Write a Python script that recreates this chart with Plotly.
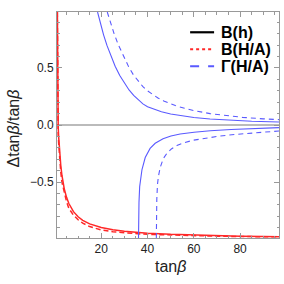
import plotly.graph_objects as go

# ---- data ----
# B(h) solid red
bh_solid_t = [1.05, 1.1, 1.2, 1.3, 1.4, 1.6, 2.0, 2.5, 3, 4, 5, 6, 8, 10, 12, 15, 20, 25, 30, 40, 50, 60, 70, 80, 90, 97]
bh_solid_d = [0.99, 0.6, 0.25, 0.05, -0.02, -0.106, -0.236, -0.353, -0.44, -0.557, -0.634, -0.688, -0.759, -0.804,
              -0.835, -0.866, -0.898, -0.918, -0.931, -0.948, -0.958, -0.965, -0.970, -0.974, -0.977, -0.978]
# B(H/A) dashed red
bha_dash_t = [1.02, 1.08, 1.15, 1.25, 1.4, 1.6, 2.0, 2.5, 3, 4, 5, 6, 8, 10, 12, 15, 20, 25, 30, 40, 50, 60, 70, 80, 90, 97]
bha_dash_d = [0.99, 0.5, 0.2, 0.02, -0.08, -0.16, -0.3, -0.41, -0.5, -0.60, -0.67, -0.73, -0.79, -0.83,
              -0.86, -0.89, -0.92, -0.935, -0.945, -0.958, -0.965, -0.97, -0.974, -0.977, -0.979, -0.98]
# Gamma(H/A) solid blue, upper branch
gu_solid_t = [18.4, 19.5, 21, 22.5, 24, 26, 28, 30, 32, 34, 36, 38, 40, 43, 46, 50, 55, 60, 67, 75, 85, 97]
gu_solid_d = [0.99, 0.90, 0.79, 0.695, 0.61, 0.515, 0.434, 0.365, 0.307, 0.259, 0.218, 0.185, 0.16, 0.135,
              0.116, 0.097, 0.079, 0.066, 0.053, 0.042, 0.033, 0.026]
# Gamma(H/A) solid blue, lower branch
gl_solid_t = [36.1, 36.15, 36.3, 36.6, 36.9, 37.6, 39.0, 41.1, 43.3, 46.7, 50.1, 54.1, 60.1, 67.1, 76.1, 86.1, 97]
gl_solid_d = [-0.99, -0.85, -0.68, -0.54, -0.48, -0.39, -0.285, -0.205, -0.16, -0.12, -0.096, -0.079, -0.063,
              -0.05, -0.04, -0.031, -0.023]
# Gamma(H/A) dashed blue, upper branch
gu_dash_t = [22.6, 24, 25.5, 27.3, 30, 32, 34, 36, 38, 40, 42, 44.5, 47, 49.5, 52, 56, 60, 67, 75, 81, 90, 97]
gu_dash_d = [0.99, 0.895, 0.803, 0.706, 0.581, 0.503, 0.436, 0.381, 0.336, 0.299, 0.268, 0.237, 0.211, 0.189,
             0.170, 0.146, 0.126, 0.100, 0.079, 0.067, 0.054, 0.047]
# Gamma(H/A) dashed blue, lower branch
gl_dash_t = [43.8, 43.85, 44.0, 44.3, 44.7, 45.5, 46.8, 48.3, 50.3, 52.7, 55.8, 59.8, 64.8, 70.8, 77.8, 85.8, 97]
gl_dash_d = [-0.99, -0.84, -0.65, -0.52, -0.45, -0.37, -0.295, -0.25, -0.21, -0.18, -0.155, -0.133, -0.115,
             -0.098, -0.083, -0.068, -0.052]

legend_labels = ["B(h)", "B(H/A)", "Γ(H/A)"]
x_ticks = [20, 40, 60, 80]
y_ticks = [-0.5, 0.0, 0.5]
y_tick_text = ["\u22120.5", "0.0", "0.5"]

RED = "rgb(255,40,40)"
BLUE = "rgb(90,90,255)"

fig = go.Figure()

def add(t, d, color, dash, width):
    fig.add_trace(go.Scatter(x=t, y=d, mode="lines", line=dict(color=color, dash=dash, width=width),
                             showlegend=False, hoverinfo="skip"))

add(bha_dash_t, bha_dash_d, RED, "5px,3px", 1.5)
add(bh_solid_t, bh_solid_d, RED, "solid", 1.5)
add(gu_solid_t, gu_solid_d, BLUE, "solid", 1.1)
add(gl_solid_t, gl_solid_d, BLUE, "solid", 1.1)
add(gu_dash_t, gu_dash_d, BLUE, "5px,4px", 1.1)
add(gl_dash_t, gl_dash_d, BLUE, "5px,4px", 1.1)

FONT = "Liberation Sans, Arial, sans-serif"
axis_common = dict(showline=True, linecolor="#999", linewidth=1, mirror="allticks", ticks="inside",
                   ticklen=5, tickcolor="#999", tickwidth=1, showgrid=False,
                   tickfont=dict(family=FONT, size=12, color="#222"))

fig.update_xaxes(range=[0.88, 96.8], tickvals=x_ticks, zeroline=False,
                 minor=dict(dtick=5, ticks="inside", ticklen=2.5, tickcolor="#999", showgrid=False), **axis_common)
fig.update_yaxes(range=[-0.99, 0.99], tickvals=y_ticks, ticktext=y_tick_text,
                 zeroline=True, zerolinecolor="#bbb", zerolinewidth=1.5,
                 minor=dict(dtick=0.1, ticks="inside", ticklen=2.5, tickcolor="#999", showgrid=False), **axis_common)

# legend drawn manually
PW = 222.3
PH = 226.3
def px_x(px):
    return (px - 56.7) / PW
def px_y(py):
    return (238 - py) / PH

rows = [(32, "black", "solid"), (49, RED, "dot"), (66, BLUE, "dash")]
for (py, col, dash), lab in zip(rows, legend_labels):
    fig.add_shape(type="line", xref="paper", yref="paper", x0=px_x(190), x1=px_x(214), y0=px_y(py), y1=px_y(py),
                  line=dict(color=col, width=2.2, dash=dash))
    fig.add_annotation(xref="paper", yref="paper", x=px_x(219), y=px_y(py), text="<b>" + lab + "</b>",
                       showarrow=False, xanchor="left", yanchor="middle",
                       font=dict(family=FONT, size=16, color="black"))

fig.add_annotation(xref="paper", yref="paper", x=px_x(170.5), y=px_y(267), text="tan<i>β</i>", showarrow=False,
                   xanchor="center", yanchor="middle", font=dict(family=FONT, size=16, color="#222"))
fig.add_annotation(xref="paper", yref="paper", x=px_x(13), y=px_y(128), text="Δtan<i>β</i>/tan<i>β</i>", showarrow=False,
                   textangle=-90, xanchor="center", yanchor="middle", font=dict(family=FONT, size=16, color="#222"))

fig.update_layout(width=284, height=284, margin=dict(l=57, r=5, t=12, b=46),
                  plot_bgcolor="white", paper_bgcolor="white", showlegend=False)

fig.write_html("out.html", config={"displayModeBar": False},
               post_script="document.body.style.margin='0';document.body.style.overflow='hidden';")
